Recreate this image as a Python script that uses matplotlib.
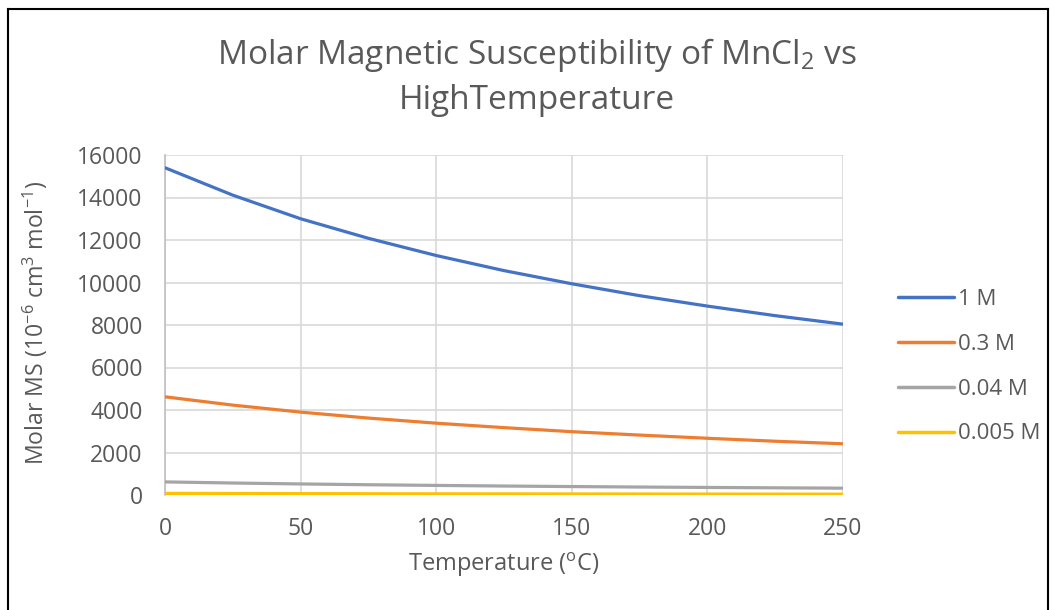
import matplotlib
matplotlib.use("Agg")
import matplotlib.pyplot as plt
from matplotlib.lines import Line2D

plt.rcParams['font.family'] = ['Open Sans', 'DejaVu Sans']
plt.rcParams['mathtext.fontset'] = 'custom'
plt.rcParams['mathtext.rm'] = 'Open Sans'
plt.rcParams['mathtext.it'] = 'Open Sans'

temperature = [0, 25, 50, 75, 100, 125, 150, 175, 200, 225, 250]
ms_1M = [15400, 14110, 13000, 12080, 11270, 10560, 9940, 9380, 8890, 8440, 8040]
ms_03M = [4620, 4230, 3900, 3620, 3380, 3170, 2980, 2820, 2670, 2530, 2410]
ms_004M = [616, 564, 520, 483, 451, 422, 397, 375, 356, 338, 321]
ms_0005M = [77, 70, 65, 60, 56, 53, 50, 47, 44, 42, 40]
series_labels = ['1 M', '0.3 M', '0.04 M', '0.005 M']
colors = ['#4472C4', '#ED7D31', '#A5A5A5', '#FFC000']
x_ticks = [0, 50, 100, 150, 200, 250]
y_ticks = [0, 2000, 4000, 6000, 8000, 10000, 12000, 14000, 16000]

txt = '#595959'
fig = plt.figure(figsize=(10.54, 6.10), dpi=100)
ax = fig.add_axes([165/1054, 1-495/610, (843-165)/1054, (495-155)/610])

for ys, lab, c in zip([ms_1M, ms_03M, ms_004M, ms_0005M], series_labels, colors):
    ax.plot(temperature, ys, color=c, lw=2.3, label=lab, solid_capstyle='round', zorder=3)

ax.set_xlim(0, 250)
ax.set_ylim(0, 16000)
ax.set_xticks(x_ticks)
ax.set_yticks(y_ticks)
ax.grid(True, color='#d9d9d9', lw=1.2)
ax.set_axisbelow(True)
for s in ['top', 'right', 'bottom']:
    ax.spines[s].set_visible(False)
ax.spines['left'].set_color('#bfbfbf')
ax.spines['left'].set_linewidth(1.2)
ax.tick_params(length=0, labelsize=16.5, colors=txt)
ax.tick_params(axis='x', pad=16)
ax.tick_params(axis='y', pad=16)

fig.text(537/1054, 1-55/610, 'Molar Magnetic Susceptibility of MnCl$_{2}$ vs',
         ha='center', va='center', fontsize=24, color=txt)
fig.text(537/1054, 1-101/610, 'HighTemperature', ha='center', va='center', fontsize=24, color=txt)
fig.text(504/1054, 1-565/610, 'Temperature ($^{\\mathrm{o}}$C)', ha='center', va='center',
         fontsize=17, color=txt)
fig.text(35/1054, 1-323/610, 'Molar MS (10$^{-6}$ cm$^{3}$ mol$^{-1}$)', ha='center', va='center',
         rotation=90, fontsize=16.7, color=txt)

handles = [Line2D([0], [0], color=c, lw=2.5, solid_capstyle='round') for c in colors]
leg = fig.legend(handles, series_labels, loc='upper left', bbox_to_anchor=(898/1054, 1-289/610),
                 frameon=False, fontsize=16, handlelength=2.5, handletextpad=0.2,
                 labelspacing=1.07, borderaxespad=0, borderpad=0)
for t in leg.get_texts():
    t.set_color(txt)

# chart border
fig.add_artist(Line2D([8/1054, 8/1054], [0, 1-9/610], color='black', lw=1.5, transform=fig.transFigure))
fig.add_artist(Line2D([8/1054, 1048/1054], [1-9/610, 1-9/610], color='black', lw=1.5, transform=fig.transFigure))
fig.add_artist(Line2D([1048/1054, 1048/1054], [0, 1-9/610], color='black', lw=1.5, transform=fig.transFigure))

fig.savefig('out.png', dpi=100)
